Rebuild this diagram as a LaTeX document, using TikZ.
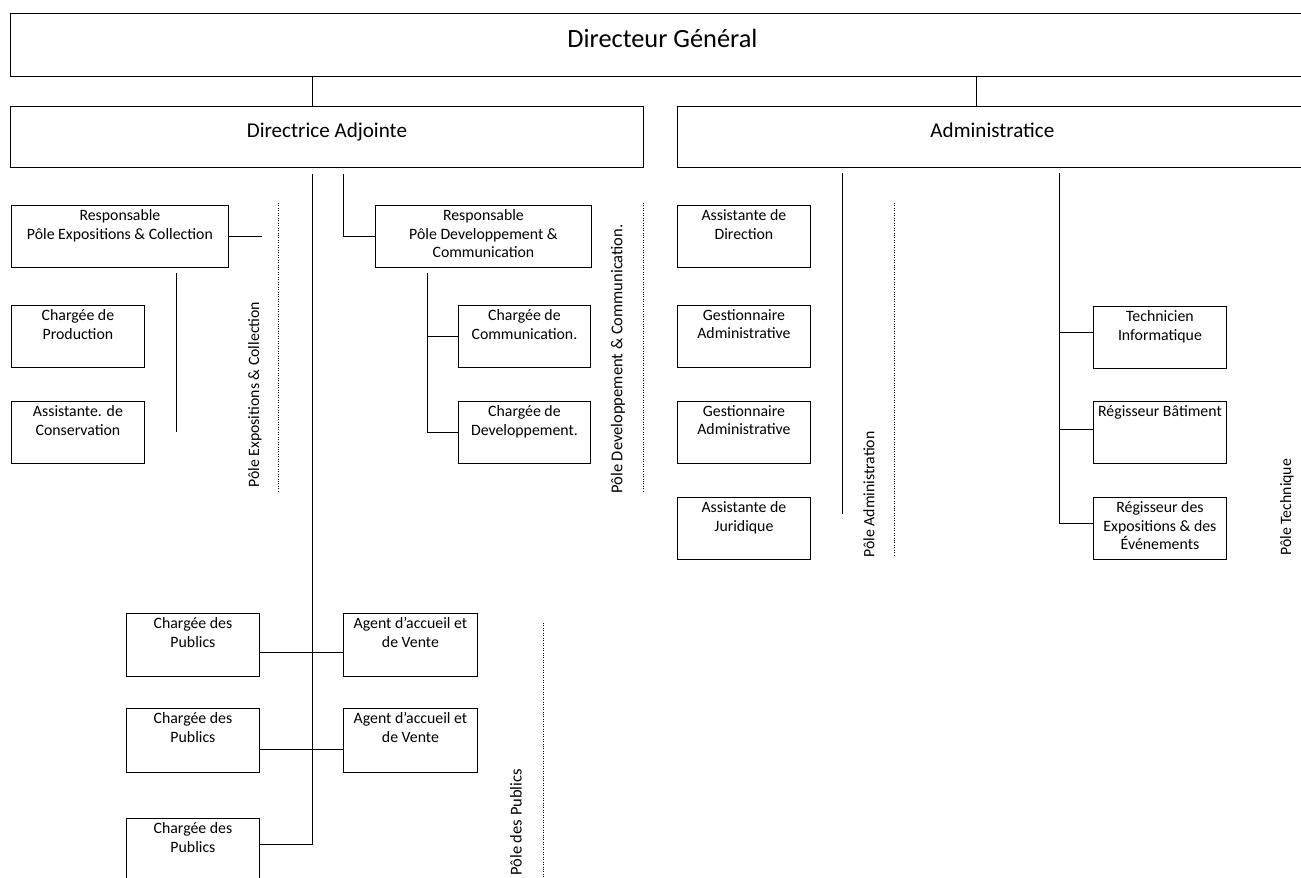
\documentclass[tikz,border=0pt]{standalone}
\usepackage{fontspec}
\setmainfont{Carlito}
\usetikzlibrary{positioning}
\def\px{0.02cm}
\tikzset{
    post/.style = {
        draw, rectangle, anchor=north west, minimum width=133*\px, minimum height=62*\px,
        inner sep=0pt, line width=0.5pt, label={[posttext]90:{#1}}
    },
    posttext/.style = {
        anchor=north, align=center, inner sep=2.5pt, font=\fontsize{9}{10.4}\selectfont
    },
    head/.style n args = {3}{
        draw, rectangle, anchor=north west, inner sep=0pt, line width=0.5pt,
        label={[anchor=north, inner sep=0pt, yshift=-#3*\px, font=#2]90:{#1}}
    },
    pole/.style = {
        rotate=90, inner sep=0pt, font=\fontsize{9}{10}\selectfont
    },
    link/.style = {line width=0.5pt},
    sep/.style = {densely dotted, line width=0.4pt},
}

\begin{document}
\begin{tikzpicture}[x=\px, y=-\px]
        \useasboundingbox (0,0) rectangle (1301,877);
        \clip (0,0) rectangle (1301,877);

        % Place the heads
        \node[head={Directeur Général}{\fontsize{15}{18}\selectfont}{16}, minimum width=1304*\px, minimum height=63*\px] (dg) at (10,13) {};
        \node[head={Directrice Adjointe}{\fontsize{12}{14}\selectfont}{17}, minimum width=633*\px, minimum height=61*\px] (da) at (10,106) {};
        \node[head={Administratice}{\fontsize{12}{14}\selectfont}{17}, minimum width=630*\px, minimum height=61*\px] (adm) at (677,106) {};

        % Pole expositions
        \node[post={Responsable\\Pôle Expositions \& Collection}, minimum width=217*\px] (respexpo) at (11,205) {};
        \node[post={Chargée de\\Production}] (chprod) at (11,305) {};
        \node[post={Assistante. de\\Conservation}] (asscons) at (11,401) {};

        % Pole developpement
        \node[post={Responsable\\Pôle Developpement \&\\Communication}, minimum width=216*\px] (respdev) at (375,205) {};
        \node[post={Chargée de\\Communication.}, minimum width=132*\px] (chcom) at (458,305) {};
        \node[post={Chargée de\\Developpement.}, minimum width=132*\px] (chdev) at (458,401) {};

        % Pole administration
        \node[post={Assistante de\\Direction}] (assdir) at (677,205) {};
        \node[post={Gestionnaire\\Administrative}] (gest1) at (677,305) {};
        \node[post={Gestionnaire\\Administrative}] (gest2) at (677,401) {};
        \node[post={Assistante de\\Juridique}] (assjur) at (677,497) {};

        % Pole technique
        \node[post={Technicien\\Informatique}] (tech) at (1093,306) {};
        \node[post={Régisseur Bâtiment}] (regbat) at (1093,401) {};
        \node[post={Régisseur des\\Expositions \& des\\Événements}] (regexpo) at (1093,497) {};

        % Pole des publics
        \node[post={Chargée des\\Publics}, minimum height=63*\px] (pub1) at (126,613) {};
        \node[post={Agent d’accueil et\\de Vente}, minimum width=134*\px, minimum height=63*\px] (agent1) at (343,613) {};
        \node[post={Chargée des\\Publics}, minimum height=64*\px] (pub2) at (126,708) {};
        \node[post={Agent d’accueil et\\de Vente}, minimum width=134*\px, minimum height=64*\px] (agent2) at (343,708) {};
        \node[post={Chargée des\\Publics}] (pub3) at (126,818) {};

        % Pole labels
        \node[pole, anchor=west] (poleexpo) at (255,488) {Pôle Expositions \& Collection};
        \node[pole, anchor=west, font=\fontsize{9.4}{11}\selectfont] (poledev) at (618,494) {Pôle Developpement \& Communication.};
        \node[pole, anchor=west] (poleadm) at (869,558) {Pôle Administration};
        \node[pole, anchor=west] (poletech) at (1287,556) {Pôle Technique};
        \node[pole, anchor=west, font=\fontsize{9.4}{11}\selectfont] (polepub) at (516,876) {Pôle des Publics};

        \draw[sep] (278,203) -- (278,492);
        \draw[sep] (643,203) -- (643,492);
        \draw[sep] (894,203) -- (894,555);
        \draw[sep] (543,623) -- (543,880);

        % Draw connections
        \coordinate (trunkA) at (312,174);
        \coordinate (trunkB) at (343,174);
        \coordinate (trunkC) at (976,76);
        \coordinate (jp1) at (312,652);
        \coordinate (jp2) at (312,749);
        \coordinate (jp3) at (312,844);
        \coordinate (expoA) at (176,273);
        \coordinate (expoB) at (176,432);
        \coordinate (devtrunk) at (427,273);
        \coordinate (admtrunk) at (842,173);
        \coordinate (techtrunk) at (1059,173);

        \draw[link] (dg.south -| trunkA) -- (da.north -| trunkA);
        \draw[link] (dg.south -| trunkC) -- (adm.north -| trunkC);

        \draw[link] (trunkA) -- (jp3) -- (pub3.east |- jp3);
        \draw[link] (pub1.east |- jp1) -- (agent1.west |- jp1);
        \draw[link] (pub2.east |- jp2) -- (agent2.west |- jp2);
        \draw[link] (trunkB) |- (respdev.west);

        \draw[link] (respexpo.east) -- ++(33,0);
        \draw[link] (expoA) -- (expoB);

        \draw[link] (devtrunk) |- (chdev.west);
        \draw[link] (devtrunk |- chcom.west) -- (chcom.west);

        \draw[link] (admtrunk) -- ++(0,341);

        \draw[link] (techtrunk) |- ([yshift=5*\px]regexpo.west);
        \draw[link] (techtrunk |- tech.west) ++(0,-5) -- ++(34,0);
        \draw[link] (techtrunk |- regbat.west) ++(0,-3) -- ++(34,0);
\end{tikzpicture}
\end{document}
